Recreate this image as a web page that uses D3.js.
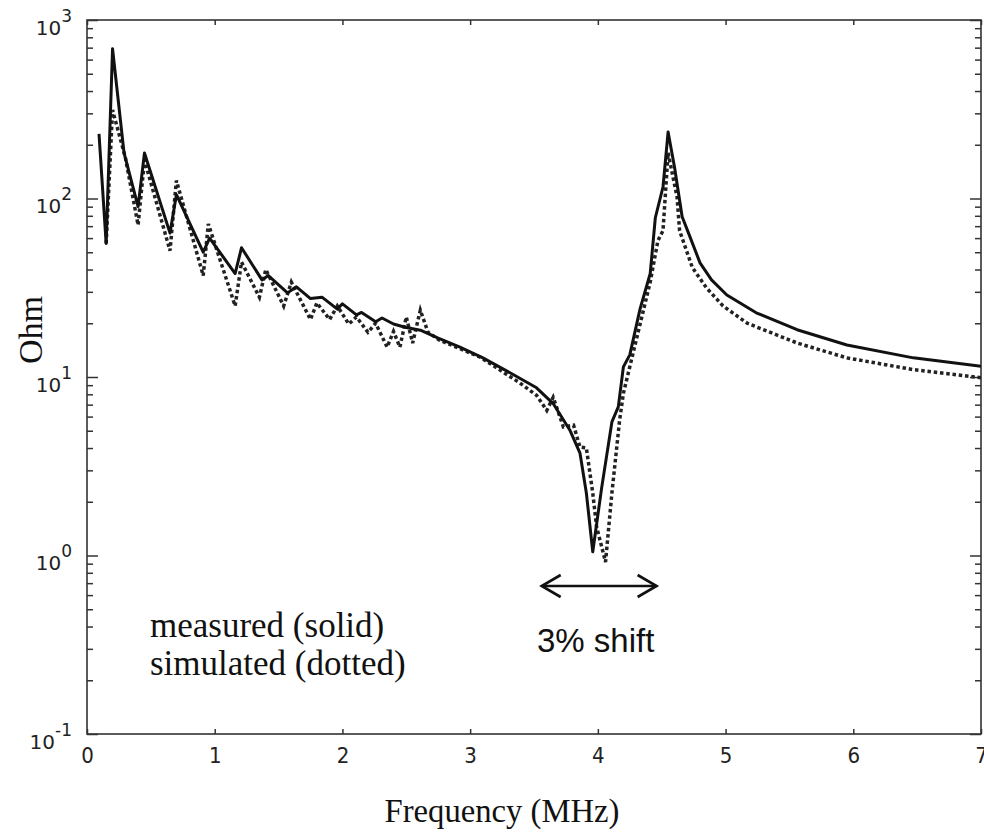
<!DOCTYPE html>
<html>
<head>
<meta charset="UTF-8">
<title>Impedance</title>
<style>
  body { margin: 0; background: #fff; }
  svg { display: block; }
</style>
</head>
<body>
<div id="chart"></div>
<script src="https://cdn.jsdelivr.net/npm/d3@7"></script>
<script>
// measured (solid)
var measFreq = [0.094, 0.15, 0.20, 0.29, 0.40, 0.45, 0.65, 0.70, 0.91, 0.96, 1.16, 1.21, 1.37, 1.42,
  1.57, 1.64, 1.75, 1.84, 1.96, 2.00, 2.11, 2.15, 2.26, 2.31, 2.40, 2.49, 2.61, 2.75, 2.92, 3.10,
  3.34, 3.52, 3.65, 3.78, 3.86, 3.91, 3.96, 4.03, 4.11, 4.16, 4.20, 4.25, 4.33, 4.41, 4.45, 4.51,
  4.55, 4.60, 4.66, 4.71, 4.80, 4.89, 5.01, 5.24, 5.56, 5.95, 6.47, 7.00];
var measOhm = [230, 56, 690, 180, 90, 180, 64, 105, 50, 60, 38, 53, 35, 37,
  29.6, 32, 27.5, 28, 24, 25.7, 22.3, 23, 20.4, 21.4, 19.8, 19, 18.3, 16.5, 14.7, 12.8,
  10.3, 8.7, 7.1, 5.05, 3.75, 2.24, 1.05, 2.4, 5.6, 6.8, 11.4, 13.3, 24, 38, 78, 116,
  236, 150, 79, 64, 43.6, 35, 28.8, 22.9, 18.4, 15.1, 12.8, 11.5];

// simulated (dotted)
var simFreq = [0.15, 0.20, 0.30, 0.40, 0.45, 0.65, 0.70, 0.91, 0.95, 1.16, 1.21, 1.35, 1.40, 1.54,
  1.60, 1.75, 1.80, 1.90, 1.96, 2.05, 2.11, 2.20, 2.26, 2.35, 2.40, 2.45, 2.50, 2.55, 2.61, 2.67,
  2.76, 3.08, 3.39, 3.52, 3.60, 3.65, 3.73, 3.81, 3.86, 3.91, 3.96, 3.99, 4.06, 4.11, 4.17, 4.20,
  4.28, 4.41, 4.47, 4.51, 4.55, 4.62, 4.64, 4.74, 4.85, 4.98, 5.17, 5.56, 5.95, 6.47, 7.00];
var simOhm = [56, 313, 170, 71, 164, 51, 126, 37, 72, 25, 44, 28, 40, 25,
  34, 21, 26, 21, 25, 19.8, 21.7, 17.8, 20, 14.7, 18, 14.7, 21.7, 15.5, 23.7, 17.8,
  16.1, 12.9, 9.25, 7.9, 6.5, 7.7, 5.25, 5.37, 4.05, 4.0, 2.24, 1.45, 0.92, 2.24, 5.7, 8.1,
  14, 34, 58, 66, 180, 102, 66, 41, 31.6, 25, 20, 15.5, 12.8, 11, 9.9];

var xTicks = [0, 1, 2, 3, 4, 5, 6, 7];
var yMajor = [0.1, 1, 10, 100, 1000];
var shiftSpan = [3.56, 4.46];

var width = 984, height = 833;
var margin = { top: 20, right: 3, bottom: 99, left: 87 };

var svg = d3.select("#chart").append("svg")
  .attr("width", width)
  .attr("height", height);

var x = d3.scaleLinear().domain([0, 7]).range([margin.left, width - margin.right]);
var y = d3.scaleLog().domain([0.1, 1000]).range([height - margin.bottom, margin.top]);

// minor ticks 2..9 per decade
var yMinor = [];
yMajor.slice(0, -1).forEach(function(d) {
  for (var m = 2; m <= 9; m++) yMinor.push(d * m);
});

var axisColor = "#333";

function styleAxis(g) {
  g.select(".domain").remove();
  g.selectAll(".tick line").attr("stroke", axisColor).attr("stroke-width", 1.5);
}

// left axis
svg.append("g")
  .attr("transform", "translate(" + x(0) + ",0)")
  .call(d3.axisLeft(y).tickValues(yMinor).tickSize(-6).tickFormat(""))
  .call(styleAxis);
var yAxisG = svg.append("g")
  .attr("transform", "translate(" + x(0) + ",0)")
  .call(d3.axisLeft(y).tickValues(yMajor).tickSize(-11).tickPadding(15))
  .call(styleAxis);
yAxisG.selectAll(".tick text")
  .style("font-family", "DejaVu Sans, sans-serif")
  .style("font-size", "20px")
  .attr("fill", "#222")
  .attr("dy", "0.7em")
  .each(function(d) {
    var t = d3.select(this);
    t.text(null);
    t.append("tspan").text("10");
    t.append("tspan").attr("dy", "-0.75em").style("font-size", "17px")
      .text(Math.round(Math.log10(d)));
  });

// right axis (mirrored ticks)
svg.append("g")
  .attr("transform", "translate(" + x(7) + ",0)")
  .call(d3.axisRight(y).tickValues(yMinor).tickSize(-6).tickFormat(""))
  .call(styleAxis);
svg.append("g")
  .attr("transform", "translate(" + x(7) + ",0)")
  .call(d3.axisRight(y).tickValues(yMajor).tickSize(-11).tickFormat(""))
  .call(styleAxis);

// bottom axis
var xAxisG = svg.append("g")
  .attr("transform", "translate(0," + y(0.1) + ")")
  .call(d3.axisBottom(x).tickValues(xTicks).tickSize(-5).tickPadding(13).tickFormat(d3.format("d")))
  .call(styleAxis);
xAxisG.selectAll(".tick text")
  .style("font-family", "DejaVu Sans, sans-serif")
  .style("font-stretch", "condensed")
  .style("font-size", "22px")
  .attr("fill", "#222");

// top axis
svg.append("g")
  .attr("transform", "translate(0," + y(1000) + ")")
  .call(d3.axisTop(x).tickValues(xTicks).tickSize(-5).tickFormat(""))
  .call(styleAxis);

// frame
svg.append("rect")
  .attr("x", x(0))
  .attr("y", y(1000))
  .attr("width", x(7) - x(0))
  .attr("height", y(0.1) - y(1000))
  .attr("fill", "none")
  .attr("stroke", axisColor)
  .attr("stroke-width", 1.6);

svg.append("clipPath").attr("id", "plot-clip")
  .append("rect")
  .attr("x", x(0)).attr("y", y(1000))
  .attr("width", x(7) - x(0)).attr("height", y(0.1) - y(1000));

var line = d3.line()
  .x(function(d) { return x(d[0]); })
  .y(function(d) { return y(d[1]); });

var simData = d3.zip(simFreq, simOhm);
var measData = d3.zip(measFreq, measOhm);

var plot = svg.append("g").attr("clip-path", "url(#plot-clip)");

plot.append("path")
  .datum(simData)
  .attr("d", line)
  .attr("fill", "none")
  .attr("stroke", "#222")
  .attr("stroke-width", 3.5)
  .attr("stroke-dasharray", "3.5,2.8")
  .attr("stroke-linejoin", "miter");

plot.append("path")
  .datum(measData)
  .attr("d", line)
  .attr("fill", "none")
  .attr("stroke", "#111")
  .attr("stroke-width", 3)
  .attr("stroke-linejoin", "round");

// axis titles
svg.append("text")
  .attr("transform", "translate(42," + (y(10) - 47) + ") rotate(-90)")
  .attr("text-anchor", "middle")
  .attr("font-family", "Liberation Serif, Times New Roman, serif")
  .attr("font-size", 34)
  .attr("fill", "#111")
  .text("Ohm");

svg.append("text")
  .attr("x", 502)
  .attr("y", 822)
  .attr("text-anchor", "middle")
  .attr("font-family", "Liberation Serif, Times New Roman, serif")
  .attr("font-size", 34)
  .attr("textLength", 235)
  .attr("lengthAdjust", "spacingAndGlyphs")
  .attr("fill", "#111")
  .text("Frequency (MHz)");

// legend notes
var notes = ["measured (solid)", "simulated (dotted)"];
svg.selectAll(".note")
  .data(notes)
  .enter().append("text")
  .attr("class", "note")
  .attr("x", 150)
  .attr("y", function(d, i) { return 637 + i * 38; })
  .attr("font-family", "Liberation Serif, Times New Roman, serif")
  .attr("font-size", 35)
  .attr("fill", "#111")
  .text(function(d) { return d; });

// shift arrow
var ay = 586;
var arrow = svg.append("g")
  .attr("stroke", "#111")
  .attr("stroke-width", 2.6)
  .attr("fill", "none");
arrow.append("line")
  .attr("x1", x(shiftSpan[0])).attr("y1", ay)
  .attr("x2", x(shiftSpan[1])).attr("y2", ay);
arrow.append("path")
  .attr("d", "M" + (x(shiftSpan[0]) + 19) + "," + (ay - 11) + "L" + x(shiftSpan[0]) + "," + ay + "L" + (x(shiftSpan[0]) + 19) + "," + (ay + 11));
arrow.append("path")
  .attr("d", "M" + (x(shiftSpan[1]) - 19) + "," + (ay - 11) + "L" + x(shiftSpan[1]) + "," + ay + "L" + (x(shiftSpan[1]) - 19) + "," + (ay + 11));

svg.append("text")
  .attr("x", 537)
  .attr("y", 652)
  .attr("font-family", "Liberation Sans, Arial, sans-serif")
  .attr("font-size", 33)
  .attr("fill", "#111")
  .text("3% shift");
</script>
</body>
</html>
